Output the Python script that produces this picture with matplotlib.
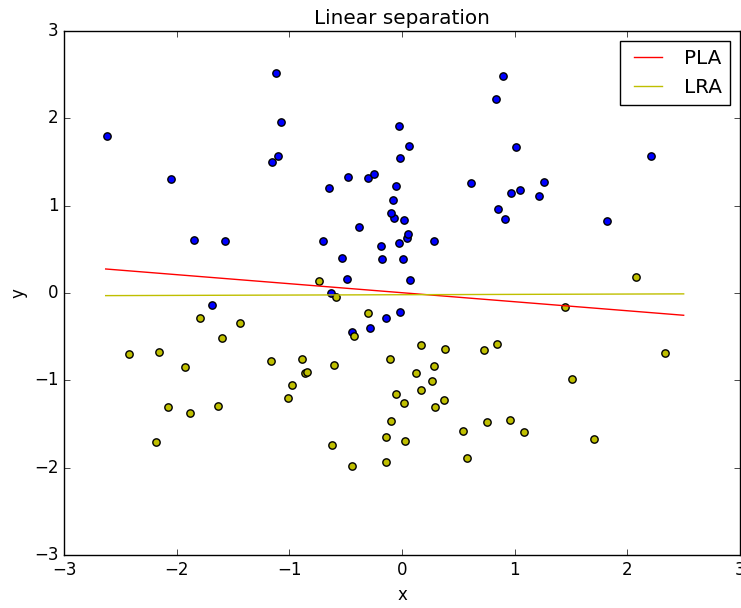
import matplotlib
matplotlib.use("Agg")
import matplotlib.pyplot as plt

plt.style.use("classic")

# class +1 (blue)
blue_x = [-2.62, -2.05, -1.85, -1.57, -1.12, -1.07, -1.10, -1.15, -1.69, -0.65,
          -0.70, -0.53, -0.48, -0.38, -0.30, -0.25, -0.49, -0.63, -0.19, -0.18,
          -0.03, 0.04, 0.05, 0.01, 0.07, 0.28, 0.02, -0.07, -0.10, -0.14,
          -0.02, -0.28, -0.44, 0.85, 0.91, 0.90, 0.83, -0.03, 0.06, -0.02,
          -0.05, -0.08, 0.61, 1.01, 0.97, 1.05, 1.26, 1.22, 2.21, 1.82]
blue_y = [1.80, 1.31, 0.61, 0.59, 2.52, 1.96, 1.57, 1.50, -0.14, 1.20,
          0.59, 0.40, 1.33, 0.76, 1.32, 1.36, 0.16, 0.00, 0.54, 0.39,
          0.57, 0.63, 0.68, 0.39, 0.15, 0.60, 0.84, 0.86, 0.92, -0.29,
          -0.22, -0.40, -0.45, 0.96, 0.85, 2.48, 2.22, 1.91, 1.68, 1.55,
          1.23, 1.06, 1.26, 1.67, 1.14, 1.18, 1.27, 1.11, 1.57, 0.82]

# class -1 (yellow)
yel_x = [2.08, 1.45, 2.33, 1.51, -1.79, -1.44, -1.60, -2.42, -2.16, -1.93,
         -1.16, -0.89, -0.86, -0.84, -0.98, -1.01, -2.08, -1.63, -1.88, -2.18,
         -0.74, -0.59, -0.30, -0.43, 0.17, 0.38, 0.73, 0.84, -0.60, -0.11,
         0.28, 0.12, 0.27, 0.17, -0.05, 0.37, 0.02, 0.29, -0.10, -0.14,
         0.03, -0.62, -0.44, -0.14, 0.54, 0.75, 0.96, 1.08, 0.58, 1.70]
yel_y = [0.18, -0.16, -0.69, -0.99, -0.29, -0.34, -0.51, -0.70, -0.68, -0.85,
         -0.78, -0.75, -0.92, -0.90, -1.05, -1.20, -1.30, -1.29, -1.37, -1.71,
         0.14, -0.05, -0.23, -0.49, -0.60, -0.64, -0.65, -0.58, -0.83, -0.76,
         -0.84, -0.92, -1.01, -1.11, -1.16, -1.22, -1.26, -1.30, -1.47, -1.65,
         -1.70, -1.74, -1.98, -1.93, -1.58, -1.48, -1.45, -1.59, -1.89, -1.67]

# separating lines (end points)
line_x = [-2.63, 2.5]
pla_y = [0.275, -0.255]
lra_y = [-0.03, -0.01]

fig = plt.figure(figsize=(7.41, 6.08), dpi=100, facecolor="white")
ax = fig.add_axes([64 / 741, 53 / 608, 676 / 741, 524 / 608])

ax.scatter(blue_x, blue_y, c="b", s=28, edgecolors="k", linewidths=1.0)
ax.scatter(yel_x, yel_y, c="y", s=28, edgecolors="k", linewidths=1.0)
ax.plot(line_x, pla_y, color="r", label="PLA")
ax.plot(line_x, lra_y, color="y", label="LRA")

ax.set_xlim(-3, 3)
ax.set_ylim(-3, 3)
ax.set_title("Linear separation")
ax.set_xlabel("x")
ax.set_ylabel("y")
ax.legend(loc="upper right")

fig.savefig("out.png", dpi=100, facecolor="white")
